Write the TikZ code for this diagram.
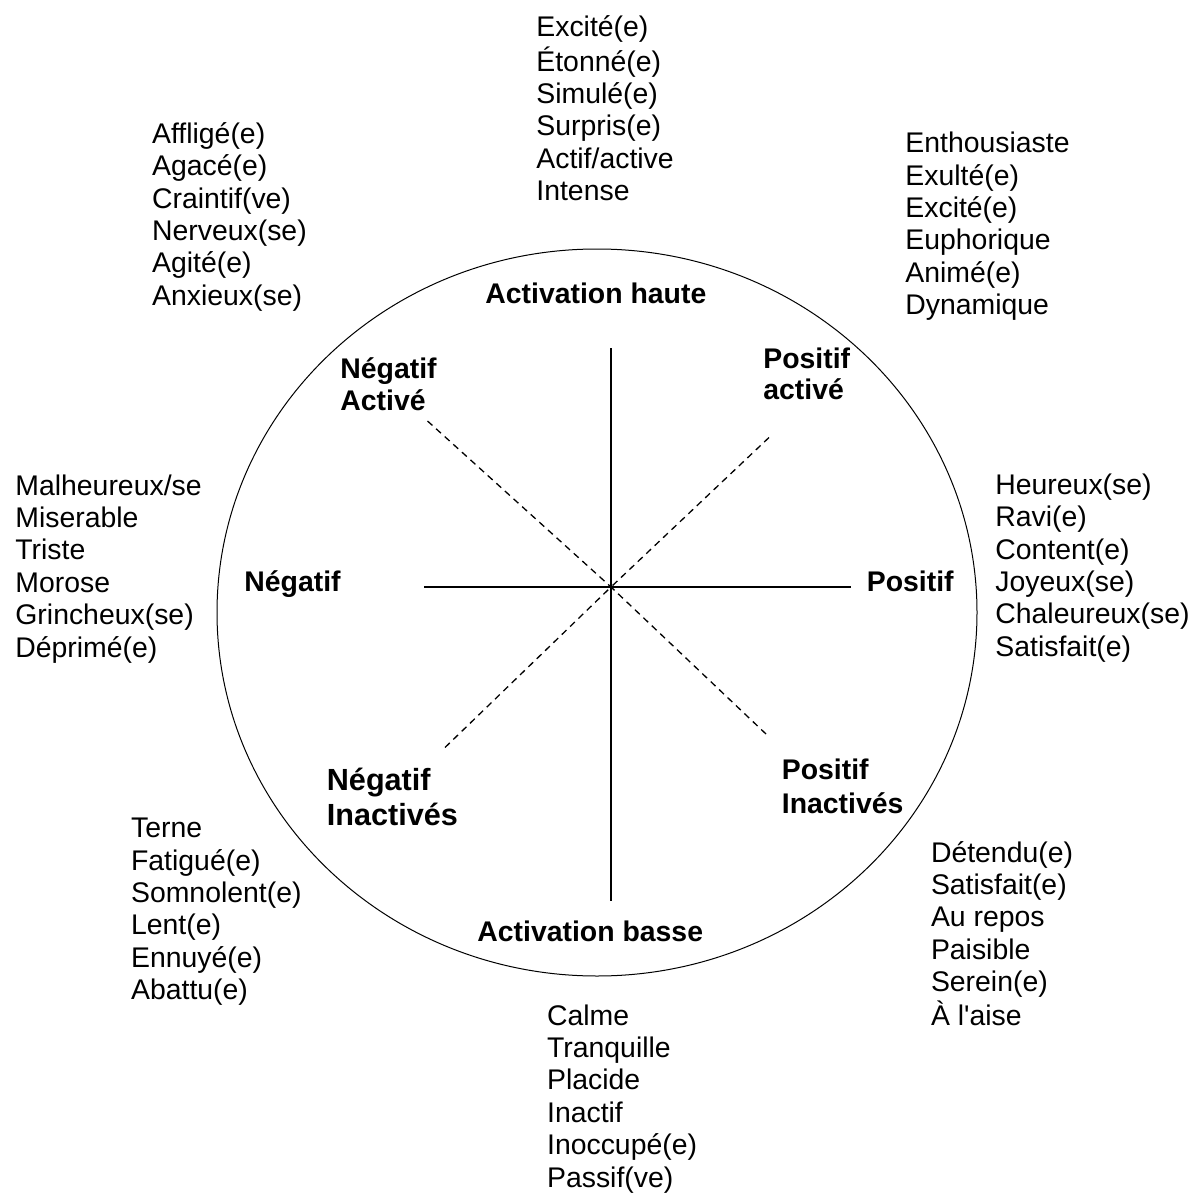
\documentclass[tikz,border=0pt]{standalone}
\usepackage{fontspec}
\newfontfamily\arial{Liberation Sans}
\newcommand\lst[2][1]{{\renewcommand\arraystretch{#1}\begin{tabular}[t]{@{}l@{}}#2\end{tabular}}}
\begin{document}
\begin{tikzpicture}[x=0.5pt,y=-0.5pt,
  lbl/.style={inner sep=0pt, anchor=base west, font=\arial\fontsize{14.2pt}{16.2pt}\selectfont},
  bld/.style={inner sep=0pt, anchor=base west, font=\arial\fontsize{14.2pt}{16.2pt}\selectfont\bfseries},
  bldbig/.style={inner sep=0pt, anchor=base west, font=\arial\fontsize{15.3pt}{17.5pt}\selectfont\bfseries},
  rim/.style={line width=0.5pt},
  axisline/.style={line width=0.9pt},
  diag/.style={line width=0.65pt, dash pattern=on 3.3pt off 2.5pt},
]
\useasboundingbox (0,0) rectangle (1194,1193);

% wheel
\draw[rim] (597,612.5) ellipse [x radius=380, y radius=363.5];
\coordinate (c) at (611,587);
\coordinate (top) at (611,348);
\coordinate (bot) at (611,901);
\coordinate (lft) at (424,587);
\coordinate (rgt) at (851,587);
\coordinate (nw) at (427.5,421);
\coordinate (ne) at (769,437.5);
\coordinate (sw) at (445,747.5);
\coordinate (se) at (766,734);
\draw[axisline] (top) -- (bot);
\draw[axisline] (lft) -- (rgt);
\draw[diag] (nw) -- (c);
\draw[diag] (ne) -- (c);
\draw[diag] (sw) -- (c);
\draw[diag] (se) -- (c);

% bold labels
\node[bld] (ah) at (485,303) {Activation haute};
\node[bld] (ab) at (477,941) {Activation basse};
\node[bld] (neg) at (244,591) {Négatif};
\node[bld] (pos) at (866.5,591) {Positif};
\node[bld] (na) at (340,378.5) {\lst{Négatif\\Activé}};
\node[bld] (pa) at (763,368) {\lst[0.96]{Positif\\activé}};
\node[bldbig] (ni) at (326.5,790) {\lst{Négatif\\Inactivés}};
\node[bld] (pi) at (781.5,779) {\lst[1.07]{Positif\\Inactivés}};

% word lists
\node[lbl] (l1) at (536,36.7) {\lst{Excité(e)\\Étonné(e)\\Simulé(e)\\Surpris(e)\\Actif/active\\Intense}};
\node[lbl] (l2) at (151.7,143.3) {\lst{Affligé(e)\\Agacé(e)\\Craintif(ve)\\Nerveux(se)\\Agité(e)\\Anxieux(se)}};
\node[lbl] (l3) at (905,152.7) {\lst{Enthousiaste\\Exulté(e)\\Excité(e)\\Euphorique\\Animé(e)\\Dynamique}};
\node[lbl] (l4) at (15,495) {\lst{Malheureux/se\\Miserable\\Triste\\Morose\\Grincheux(se)\\Déprimé(e)}};
\node[lbl] (l5) at (995,494.3) {\lst{Heureux(se)\\Ravi(e)\\Content(e)\\Joyeux(se)\\Chaleureux(se)\\Satisfait(e)}};
\node[lbl] (l6) at (130.7,837.7) {\lst{Terne\\Fatigué(e)\\Somnolent(e)\\Lent(e)\\Ennuyé(e)\\Abattu(e)}};
\node[lbl] (l7) at (930.6,862) {\lst{Détendu(e)\\Satisfait(e)\\Au repos\\Paisible\\Serein(e)\\À l'aise}};
\node[lbl] (l8) at (546.7,1025) {\lst{Calme\\Tranquille\\Placide\\Inactif\\Inoccupé(e)\\Passif(ve)}};
\end{tikzpicture}
\end{document}
